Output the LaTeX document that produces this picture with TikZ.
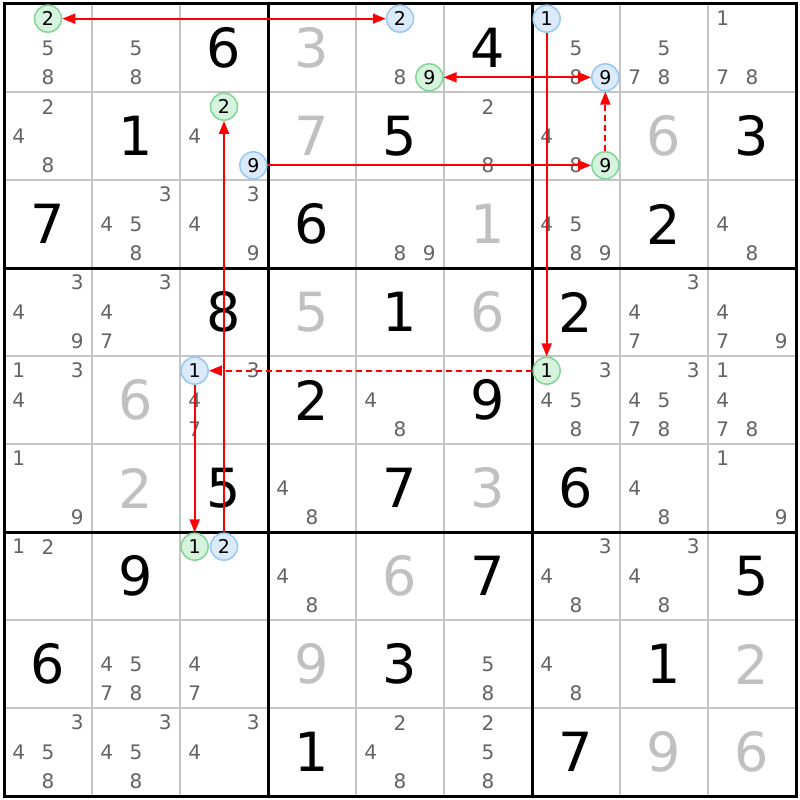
\documentclass[tikz,border=0pt]{standalone}
\usepackage{fontspec}
\setmainfont{DejaVu Sans}
\usetikzlibrary{arrows.meta}
\definecolor{candgray}{RGB}{100,100,100}
\definecolor{solgray}{RGB}{192,192,192}
\definecolor{gridgray}{RGB}{196,196,196}
\definecolor{bluefill}{RGB}{219,235,252}
\definecolor{blueline}{RGB}{150,200,246}
\definecolor{greenfill}{RGB}{214,244,221}
\definecolor{greenline}{RGB}{128,214,148}
\definecolor{linkred}{RGB}{255,0,0}
\tikzset{
  cand/.style={inner sep=0pt, text=candgray, font=\fontsize{20bp}{20bp}\selectfont},
  given/.style={inner sep=0pt, text=black, font=\fontsize{54bp}{54bp}\selectfont},
  solved/.style={inner sep=0pt, text=solgray, font=\fontsize{54bp}{54bp}\selectfont},
  bluec/.style={circle, inner sep=0pt, minimum size=27bp, line width=1.5bp, draw=blueline, fill=bluefill, text=black, font=\fontsize{19bp}{19bp}\selectfont},
  greenc/.style={circle, inner sep=0pt, minimum size=27bp, line width=1.5bp, draw=greenline, fill=greenfill, text=black, font=\fontsize{19bp}{19bp}\selectfont},
  thinline/.style={draw=gridgray, line width=1.3bp},
  thickline/.style={draw=black, line width=3bp},
  strong/.style={draw=linkred, fill=linkred, line width=1.7bp},
  weak/.style={draw=linkred, fill=linkred, line width=1.7bp, dash pattern=on 6bp off 4bp},
  tip/.tip={Triangle[length=13bp,width=10bp]}
}
\newcommand\cellcands[3]{\foreach \k in {#3}{%
  \pgfmathsetmacro\cx{88*(#2-1)+18.667+29.333*mod(\k-1,3)}%
  \pgfmathsetmacro\cy{88*(#1-1)+18.667+29.333*floor((\k-1)/3)}%
  \node[cand] (n#1#2\k) at (\cx,\cy) {\k};}}
\newcommand\givd[3]{\node[given] (g#1#2) at ({88*#2-40},{88*#1-40}) {#3};}
\newcommand\sold[3]{\node[solved] (s#1#2) at ({88*#2-40},{88*#1-40}) {#3};}
\newcommand\circd[5]{%
  \pgfmathsetmacro\cx{88*(#3-1)+18.667+29.333*mod(#4-1,3)}%
  \pgfmathsetmacro\cy{88*(#2-1)+18.667+29.333*floor((#4-1)/3)}%
  \node[#1] (#5) at (\cx,\cy) {#4};}
\begin{document}
\begin{tikzpicture}[x=1bp,y=-1bp]
\useasboundingbox (0,0) rectangle (800,800);
\fill[white] (0,0) rectangle (800,800);
% grid
\foreach \i in {1,2,4,5,7,8}{
  \draw[thinline] ({4+88*\i},4) -- ({4+88*\i},796);
  \draw[thinline] (4,{4+88*\i}) -- (796,{4+88*\i});
}
\foreach \i in {0,1,2,3}{
  \draw[thickline] ({4+264*\i},2.5) -- ({4+264*\i},797.5);
  \draw[thickline] (2.5,{4+264*\i}) -- (797.5,{4+264*\i});
}
% row 1
\cellcands{1}{1}{5,8} \cellcands{1}{2}{5,8} \givd{1}{3}{6} \sold{1}{4}{3}
\cellcands{1}{5}{8} \givd{1}{6}{4} \cellcands{1}{7}{5,8} \cellcands{1}{8}{5,7,8} \cellcands{1}{9}{1,7,8}
% row 2
\cellcands{2}{1}{2,4,8} \givd{2}{2}{1} \cellcands{2}{3}{4} \sold{2}{4}{7} \givd{2}{5}{5}
\cellcands{2}{6}{2,8} \cellcands{2}{7}{4,8} \sold{2}{8}{6} \givd{2}{9}{3}
% row 3
\givd{3}{1}{7} \cellcands{3}{2}{3,4,5,8} \cellcands{3}{3}{3,4,9} \givd{3}{4}{6} \cellcands{3}{5}{8,9}
\sold{3}{6}{1} \cellcands{3}{7}{4,5,8,9} \givd{3}{8}{2} \cellcands{3}{9}{4,8}
% row 4
\cellcands{4}{1}{3,4,9} \cellcands{4}{2}{3,4,7} \givd{4}{3}{8} \sold{4}{4}{5} \givd{4}{5}{1}
\sold{4}{6}{6} \givd{4}{7}{2} \cellcands{4}{8}{3,4,7} \cellcands{4}{9}{4,7,9}
% row 5
\cellcands{5}{1}{1,3,4} \sold{5}{2}{6} \cellcands{5}{3}{3,4,7} \givd{5}{4}{2} \cellcands{5}{5}{4,8}
\givd{5}{6}{9} \cellcands{5}{7}{3,4,5,8} \cellcands{5}{8}{3,4,5,7,8} \cellcands{5}{9}{1,4,7,8}
% row 6
\cellcands{6}{1}{1,9} \sold{6}{2}{2} \givd{6}{3}{5} \cellcands{6}{4}{4,8} \givd{6}{5}{7}
\sold{6}{6}{3} \givd{6}{7}{6} \cellcands{6}{8}{4,8} \cellcands{6}{9}{1,9}
% row 7
\cellcands{7}{1}{1,2} \givd{7}{2}{9} \cellcands{7}{4}{4,8} \sold{7}{5}{6}
\givd{7}{6}{7} \cellcands{7}{7}{3,4,8} \cellcands{7}{8}{3,4,8} \givd{7}{9}{5}
% row 8
\givd{8}{1}{6} \cellcands{8}{2}{4,5,7,8} \cellcands{8}{3}{4,7} \sold{8}{4}{9} \givd{8}{5}{3}
\cellcands{8}{6}{5,8} \cellcands{8}{7}{4,8} \givd{8}{8}{1} \sold{8}{9}{2}
% row 9
\cellcands{9}{1}{3,4,5,8} \cellcands{9}{2}{3,4,5,8} \cellcands{9}{3}{3,4} \givd{9}{4}{1}
\cellcands{9}{5}{2,4,8} \cellcands{9}{6}{2,5,8} \givd{9}{7}{7} \sold{9}{8}{9} \sold{9}{9}{6}
% highlighted candidates
\circd{greenc}{1}{1}{2}{ga}
\circd{bluec}{1}{5}{2}{bb}
\circd{greenc}{1}{5}{9}{gc}
\circd{bluec}{1}{7}{1}{bd}
\circd{bluec}{1}{7}{9}{be}
\circd{greenc}{2}{3}{2}{gf}
\circd{bluec}{2}{3}{9}{bg}
\circd{greenc}{2}{7}{9}{gh}
\circd{bluec}{5}{3}{1}{bi}
\circd{greenc}{5}{7}{1}{gj}
\circd{greenc}{7}{3}{1}{gk}
\circd{bluec}{7}{3}{2}{bl}
% links
\draw[strong, tip-tip] (ga) -- (bb);
\draw[strong, tip-tip] (gc) -- (be);
\draw[strong, -tip] (bd) -- (gj);
\draw[weak, -tip] (gj) -- (bi);
\draw[strong, -tip] (bi) -- (gk);
\draw[strong, -tip] (bl) -- (gf);
\draw[strong, -tip] (bg) -- (gh);
\draw[weak, -tip] (gh) -- (be);
\end{tikzpicture}
\end{document}
